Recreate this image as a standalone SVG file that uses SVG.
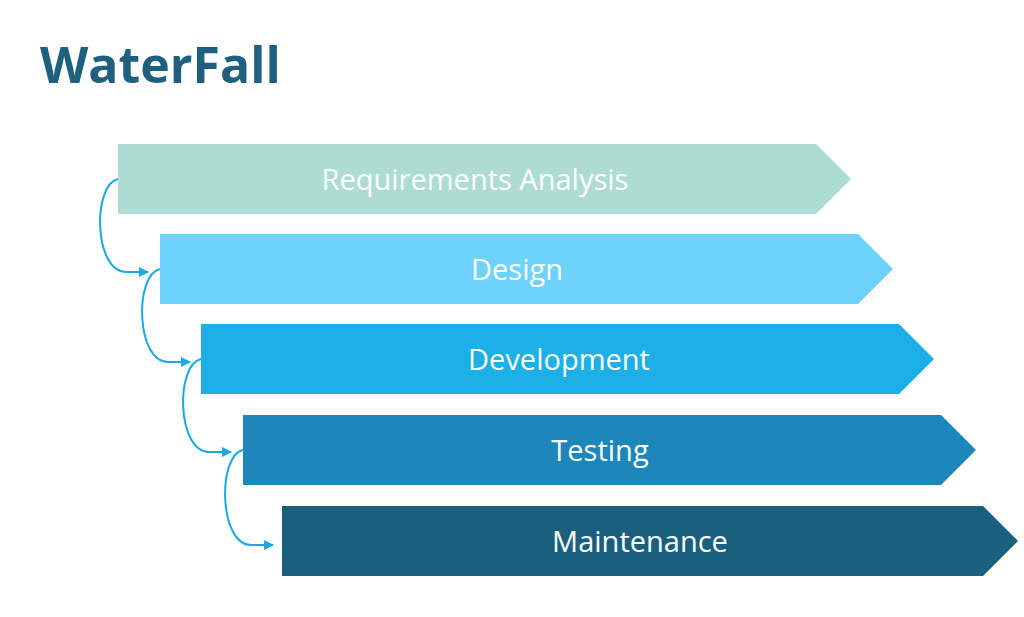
<svg xmlns="http://www.w3.org/2000/svg" width="1024" height="617" viewBox="0 0 1024 617">
<style>
.t{font-family:"Open Sans","Liberation Sans",sans-serif;font-size:29px;fill:#fff;text-anchor:middle}
.c{fill:none;stroke:#1AA9E4;stroke-width:2}
</style>
<defs><marker id="a" markerWidth="10" markerHeight="10" refX="9" refY="5" orient="auto" markerUnits="userSpaceOnUse"><path d="M0,0L10,5L0,10z" fill="#1AA9E4"/></marker></defs>
<rect width="1024" height="617" fill="#fff"/>
<text x="40" y="83" font-family="Open Sans,Liberation Sans,sans-serif" font-weight="bold" font-size="50" fill="#1F6080">WaterFall</text>
<g id="n1"><path d="M118,144H816L851,179L816,214H118z" fill="#ADDCD2"/><text class="t" x="475" y="190">Requirements Analysis</text></g>
<g id="n2"><path d="M160,234H858L893,269L858,304H160z" fill="#6DD3FC"/><text class="t" x="517" y="280">Design</text></g>
<g id="n3"><path d="M201,324H899L934,359L899,394H201z" fill="#1DAFE8"/><text class="t" x="559" y="370">Development</text></g>
<g id="n4"><path d="M243,415H941L976,450L941,485H243z" fill="#1C87B8"/><text class="t" x="600" y="461">Testing</text></g>
<g id="n5"><path d="M282,506H983L1018,541L983,576H282z" fill="#1A5F7E"/><text class="t" x="640" y="552">Maintenance</text></g>
<g id="connectors">
<path class="c" marker-end="url(#a)" d="M118,179C92,185 94,272 126,272H148"/>
<path class="c" marker-end="url(#a)" d="M160,269C134,275 136,362 168,362H190"/>
<path class="c" marker-end="url(#a)" d="M201,359C175,365 177,452 209,452H231"/>
<path class="c" marker-end="url(#a)" d="M243,450C217,456 219,545 251,545H273"/>
</g>
</svg>
